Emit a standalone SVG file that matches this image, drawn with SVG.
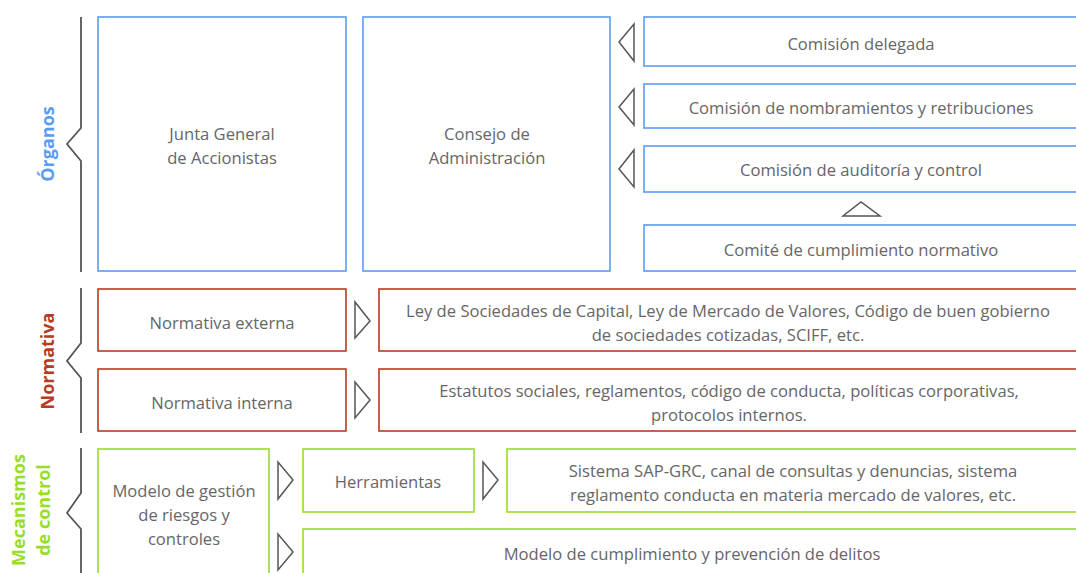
<svg xmlns="http://www.w3.org/2000/svg" width="1076" height="573" viewBox="0 0 1076 573">
<style>
.b{fill:#fff;stroke:#5b9bf5;stroke-width:1.6}
.r{fill:#fff;stroke:#b83a1f;stroke-width:1.6}
.g{fill:#fff;stroke:#99dd28;stroke-width:1.6}
.t{font-family:"Open Sans","Liberation Sans",sans-serif;font-size:16.6px;fill:#666;text-anchor:middle;dominant-baseline:central}
.s{font-family:"Open Sans","Liberation Sans",sans-serif;font-size:18px;font-weight:bold;text-anchor:middle;dominant-baseline:central}
.tri{fill:#fff;stroke:#555;stroke-width:1.5;stroke-linejoin:miter}
.br{fill:none;stroke:#555;stroke-width:1.8}
</style>
<rect width="1076" height="573" fill="#fff"/>
<g id="brackets">
<polyline class="br" points="81,17 81,128 67,144 81,161 81,272"/>
<polyline class="br" points="81,288 81,343 67,361 81,378 81,433"/>
<polyline class="br" points="81,448 81,493 67,513 81,529 81,573"/>
</g>
<g id="labels">
<text class="s" fill="#5b9bf5" transform="translate(47,144) rotate(-90)">Órganos</text>
<text class="s" fill="#b83a1f" transform="translate(47,361) rotate(-90)">Normativa</text>
<text class="s" fill="#99dd28" transform="translate(18,510) rotate(-90)">Mecanismos</text>
<text class="s" fill="#99dd28" transform="translate(43,510) rotate(-90)">de control</text>
</g>
<g id="junta"><rect class="b" x="98" y="17" width="248" height="254"/>
<text class="t" x="222" y="133">Junta General</text><text class="t" x="222" y="157">de Accionistas</text></g>
<g id="consejo"><rect class="b" x="363" y="17" width="247" height="254"/>
<text class="t" x="487" y="133">Consejo de</text><text class="t" x="487" y="157">Administración</text></g>
<g id="delegada"><rect class="b" x="644" y="17" width="440" height="49"/>
<text class="t" x="861" y="43">Comisión delegada</text></g>
<g id="nombramientos"><rect class="b" x="644" y="84" width="440" height="44"/>
<text class="t" x="861" y="107">Comisión de nombramientos y retribuciones</text></g>
<g id="auditoria"><rect class="b" x="644" y="146" width="440" height="46"/>
<text class="t" x="861" y="169">Comisión de auditoría y control</text></g>
<g id="comite"><rect class="b" x="644" y="225" width="440" height="46"/>
<text class="t" x="861" y="249">Comité de cumplimiento normativo</text></g>
<g id="norm-externa"><rect class="r" x="98" y="289" width="248" height="62"/>
<text class="t" x="222" y="322">Normativa externa</text></g>
<g id="ley"><rect class="r" x="379" y="289" width="705" height="62"/>
<text class="t" x="728" y="310">Ley de Sociedades de Capital, Ley de Mercado de Valores, Código de buen gobierno</text>
<text class="t" x="728" y="334">de sociedades cotizadas, SCIFF, etc.</text></g>
<g id="norm-interna"><rect class="r" x="98" y="369" width="248" height="62"/>
<text class="t" x="222" y="402">Normativa interna</text></g>
<g id="estatutos"><rect class="r" x="379" y="369" width="705" height="62"/>
<text class="t" x="729" y="390">Estatutos sociales, reglamentos, código de conducta, políticas corporativas,</text>
<text class="t" x="729" y="414">protocolos internos.</text></g>
<g id="modelo-gestion"><rect class="g" x="98" y="449" width="171" height="130"/>
<text class="t" x="184" y="490">Modelo de gestión</text>
<text class="t" x="184" y="514">de riesgos y</text>
<text class="t" x="184" y="538">controles</text></g>
<g id="herramientas"><rect class="g" x="303" y="449" width="171" height="63"/>
<text class="t" x="388" y="481">Herramientas</text></g>
<g id="sistema"><rect class="g" x="507" y="449" width="577" height="63"/>
<text class="t" x="793" y="470">Sistema SAP-GRC, canal de consultas y denuncias, sistema</text>
<text class="t" x="793" y="494">reglamento conducta en materia mercado de valores, etc.</text></g>
<g id="cumplimiento"><rect class="g" x="303" y="529" width="781" height="60"/>
<text class="t" x="692" y="553">Modelo de cumplimiento y prevención de delitos</text></g>
<g id="connectors">
<polygon class="tri" points="634,24 634,61 619,42"/>
<polygon class="tri" points="634,89 634,125 619,107"/>
<polygon class="tri" points="634,150 634,187 619,169"/>
<polygon class="tri" points="843,216 880,216 861,202"/>
<polygon class="tri" points="355,302 355,338 370,321"/>
<polygon class="tri" points="355,382 355,418 370,400"/>
<polygon class="tri" points="278,462 278,499 293,480"/>
<polygon class="tri" points="483,462 483,499 498,480"/>
<polygon class="tri" points="278,534 278,570 293,552"/>
</g>
</svg>
